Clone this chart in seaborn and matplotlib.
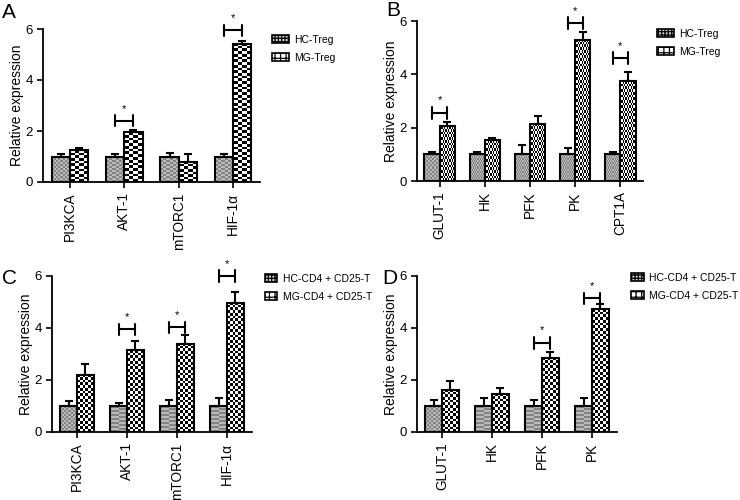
import numpy as np
import pandas as pd
import seaborn as sns
import matplotlib.pyplot as plt
from matplotlib.patches import Patch
from matplotlib.colors import ListedColormap

# Panel A / C genes
genes_ac = ["PI3KCA", "AKT-1", "mTORC1", "HIF-1α"]
# Panel B / D genes
genes_b = ["GLUT-1", "HK", "PFK", "PK", "CPT1A"]
genes_d = ["GLUT-1", "HK", "PFK", "PK"]

# A: Treg
a_hc = [1.0, 1.0, 1.0, 1.0]
a_hc_err = [0.1, 0.1, 0.15, 0.1]
a_mg = [1.25, 1.95, 0.8, 5.42]
a_mg_err = [0.08, 0.1, 0.3, 0.1]
a_sig = ["AKT-1", "HIF-1α"]
a_sig_y = [2.4, 5.95]

# B: Treg
b_hc = [1.0, 1.0, 1.0, 1.0, 1.0]
b_hc_err = [0.1, 0.1, 0.35, 0.25, 0.08]
b_mg = [2.05, 1.52, 2.15, 5.3, 3.75]
b_mg_err = [0.15, 0.08, 0.3, 0.3, 0.33]
b_sig = ["GLUT-1", "PK", "CPT1A"]
b_sig_y = [2.55, 5.92, 4.6]

# C: CD4+CD25-T
c_hc = [1.0, 1.0, 1.0, 1.0]
c_hc_err = [0.2, 0.1, 0.25, 0.32]
c_mg = [2.2, 3.15, 3.4, 4.97]
c_mg_err = [0.4, 0.35, 0.35, 0.4]
c_sig = ["AKT-1", "mTORC1", "HIF-1α"]
c_sig_y = [3.95, 4.02, 6.0]

# D: CD4+CD25-T
d_hc = [1.0, 1.0, 1.0, 1.0]
d_hc_err = [0.23, 0.32, 0.22, 0.32]
d_mg = [1.62, 1.48, 2.85, 4.72]
d_mg_err = [0.34, 0.22, 0.22, 0.22]
d_sig = ["PFK", "PK"]
d_sig_y = [3.43, 5.14]

treg_labels = ["HC-Treg", "MG-Treg"]
cd4_labels = ["HC-CD4 + CD25-T", "MG-CD4 + CD25-T"]

sns.set_style("ticks")
plt.rcParams["font.family"] = ["Liberation Sans", "DejaVu Sans"]
for k in ["text.color", "axes.labelcolor", "xtick.color", "ytick.color", "axes.edgecolor"]:
    plt.rcParams[k] = "black"
plt.rcParams["hatch.linewidth"] = 0.9

# checker textures: (cell size in px, colour 1, colour 2)
HC_TEX = (2.0, "#838383", "#bababa")
MG_TEX = (2.7, "black", "white")
HC_LEG = dict(facecolor="#cccccc", hatch="+++++")
MG_LEG = dict(facecolor="white", hatch="+++")


def fill_checker(ax, bar, tex):
    cell, c1, c2 = tex
    x0, y0 = bar.get_x(), bar.get_y()
    w, h = bar.get_width(), bar.get_height()
    (px0, py0), (px1, py1) = ax.transData.transform([(x0, y0), (x0 + w, y0 + h)])
    nx = max(1, int(round((px1 - px0) / cell)))
    ny = max(1, int(round((py1 - py0) / cell)))
    grid = np.add.outer(np.arange(ny), np.arange(nx)) % 2
    ax.imshow(grid, extent=(x0, x0 + w, y0, y0 + h), origin="lower",
              cmap=ListedColormap([c1, c2]), interpolation="nearest",
              aspect="auto", zorder=0.5)
    bar.set_facecolor("none")


def draw_panel(ax, genes, hc, hc_err, mg, mg_err, sig, sig_y, labels, letter,
               letter_xy, leg_xy, handlelength):
    df = pd.DataFrame({
        "gene": genes * 2,
        "value": hc + mg,
        "group": [labels[0]] * len(genes) + [labels[1]] * len(genes),
    })
    sns.barplot(data=df, x="gene", y="value", hue="group", ax=ax,
                width=0.67, errorbar=None, legend=False,
                edgecolor="black", linewidth=1.5, palette=["#999999", "white"])
    xlim = ax.get_xlim()
    ax.set_ylim(0, 6)

    centers = {}
    for cont, tex, errs in zip(ax.containers, [HC_TEX, MG_TEX], [hc_err, mg_err]):
        xs, ys = [], []
        for bar, g in zip(cont, genes):
            fill_checker(ax, bar, tex)
            xs.append(bar.get_x() + bar.get_width() / 2)
            ys.append(bar.get_height())
            centers.setdefault(g, []).append(xs[-1])
        ax.errorbar(xs, ys, yerr=[[0] * len(errs), errs], fmt="none",
                    ecolor="black", elinewidth=1.5, capsize=3, capthick=1.5, zorder=1)
    ax.set_xlim(xlim)
    ax.set_ylim(0, 6)

    # significance brackets
    for g, y in zip(sig, sig_y):
        x0, x1 = centers[g]
        ax.plot([x0, x1], [y, y], color="black", lw=1.5, clip_on=False)
        ax.plot([x0, x0], [y - 0.22, y + 0.22], color="black", lw=1.5, clip_on=False)
        ax.plot([x1, x1], [y - 0.22, y + 0.22], color="black", lw=1.5, clip_on=False)
        ax.text((x0 + x1) / 2, y + 0.28, "*", ha="center", va="bottom", fontsize=8)

    ax.set_yticks([0, 2, 4, 6])
    ax.set_xlabel("")
    ax.set_ylabel("Relative expression", fontsize=10, labelpad=1)
    ax.tick_params(axis="x", labelrotation=90, labelsize=9.8, length=4, width=1.2)
    ax.tick_params(axis="y", labelsize=9.5, length=4, width=1.2)
    for s in ["left", "bottom"]:
        ax.spines[s].set_linewidth(1.3)
    sns.despine(ax=ax)

    handles = [Patch(edgecolor="black", linewidth=1.2, **HC_LEG),
               Patch(edgecolor="black", linewidth=1.2, **MG_LEG)]
    ax.legend(handles, labels, loc="upper left", bbox_to_anchor=leg_xy,
              bbox_transform=ax.figure.transFigure, frameon=False, fontsize=7.5,
              borderpad=0, borderaxespad=0, handlelength=handlelength, handleheight=0.8,
              handletextpad=0.5, labelspacing=0.75)
    ax.figure.text(letter_xy[0], letter_xy[1], letter, fontsize=15, va="top", ha="left")


fig = plt.figure(figsize=(7.4, 5), dpi=100)
ax_a = fig.add_axes([0.0581, 0.636, 0.2932, 0.306])
ax_b = fig.add_axes([0.5635, 0.638, 0.3054, 0.32])
ax_c = fig.add_axes([0.0703, 0.136, 0.2703, 0.312])
ax_d = fig.add_axes([0.5635, 0.136, 0.2703, 0.312])

draw_panel(ax_a, genes_ac, a_hc, a_hc_err, a_mg, a_mg_err, a_sig, a_sig_y,
           treg_labels, "A", (0.003, 0.995), (0.368, 0.93), 1.6)
draw_panel(ax_b, genes_b, b_hc, b_hc_err, b_mg, b_mg_err, b_sig, b_sig_y,
           treg_labels, "B", (0.522, 0.998), (0.888, 0.942), 1.6)
draw_panel(ax_c, genes_ac, c_hc, c_hc_err, c_mg, c_mg_err, c_sig, c_sig_y,
           cd4_labels, "C", (0.003, 0.462), (0.358, 0.452), 1.2)
draw_panel(ax_d, genes_d, d_hc, d_hc_err, d_mg, d_mg_err, d_sig, d_sig_y,
           cd4_labels, "D", (0.517, 0.462), (0.853, 0.454), 1.2)

fig.savefig("out.png", dpi=100)
